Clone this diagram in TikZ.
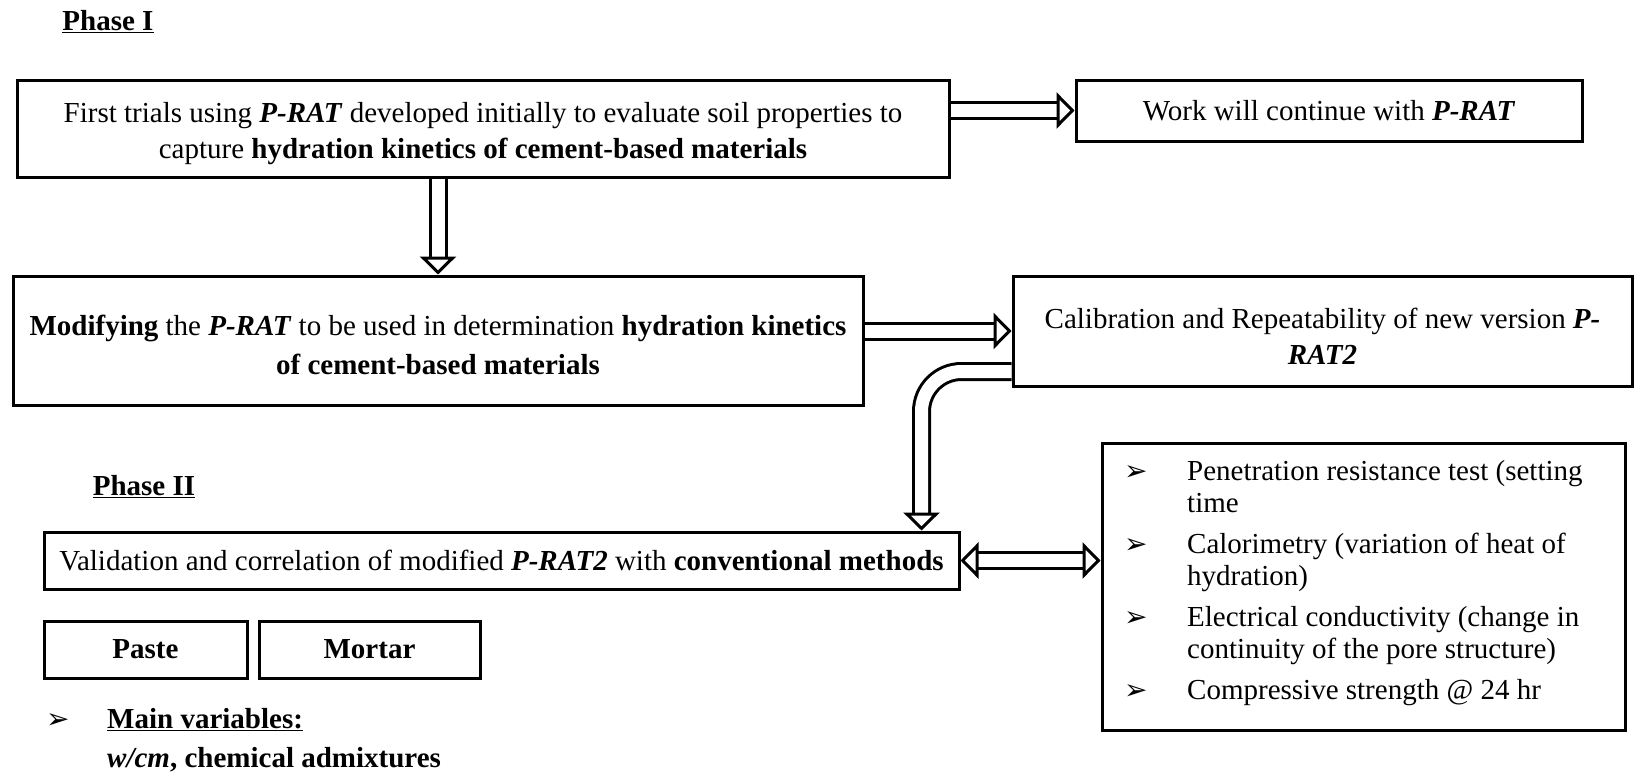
\documentclass[tikz,border=0pt]{standalone}
\usepackage{fontspec}
\setmainfont{Liberation Serif}
\newfontfamily\symfont{DejaVu Sans}
\usetikzlibrary{arrows.meta}
\newcommand{\prat}[1]{\textbf{\textit{#1}}}
\newcommand{\tick}{{\symfont\fontsize{28}{28}\selectfont ➢}}
\newcommand{\lift}{\rule{0pt}{30pt}}

\begin{document}
\begin{tikzpicture}[x=1pt, y=-1pt, font=\fontsize{29}{36}\selectfont,
	box/.style={draw, line width=3pt, inner sep=0pt, align=center},
	hollow/.style={double, double distance=13pt, line width=3pt, -{Triangle[open, length=18pt, width=36pt]}}]
	\useasboundingbox (0,0) rectangle (1635,776);

	% phase I
	\node (ph1) at (108,22) {\textbf{\underline{Phase I}}};
	\node[box, minimum width=932pt, minimum height=97pt] (trial) at (483,128.5) {\lift First trials using \prat{P-RAT} developed initially to evaluate soil properties to\\capture \textbf{hydration kinetics of cement-based materials}};
	\node[box, minimum width=506pt, minimum height=61pt] (cont) at (1329,110.5) {Work will continue with \prat{P-RAT}};
	\node[box, minimum width=850pt, minimum height=129pt, font=\fontsize{29}{39}\selectfont] (modif) at (438,340.5) {\lift\textbf{Modifying} the \prat{P-RAT} to be used in determination \textbf{hydration kinetics}\\\textbf{of cement-based materials}};
	\node[box, minimum width=619pt, minimum height=110pt] (calib) at (1322.5,331) {\lift Calibration and Repeatability of new version \prat{P-}\\\prat{RAT2}};

	% phase II
	\node (ph2) at (144,487) {\textbf{\underline{Phase II}}};
	\node[box, minimum width=915pt, minimum height=57pt] (valid) at (501.5,560.5) {Validation and correlation of modified \prat{P-RAT2} with \textbf{conventional methods}};
	\node[box, minimum width=203pt, minimum height=57pt] (paste) at (145.5,649.5) {\textbf{Paste}};
	\node[box, minimum width=221pt, minimum height=57pt] (mortar) at (369.5,649.5) {\textbf{Mortar}};
	\node[anchor=north west, inner sep=0pt, font=\fontsize{29}{39}\selectfont] (vars) at (46,701) {\begin{tabular}{@{}p{61pt}@{}l@{}}
		\tick & \textbf{\underline{Main variables:}}\\
		& \textbf{\textit{w/cm}, chemical admixtures}
	\end{tabular}};
	\node[box, minimum width=523pt, minimum height=287pt] (tests) at (1363.5,586.5) {};
	\node[anchor=north west, inner sep=0pt, font=\fontsize{29}{32}\selectfont] (lst) at (1124,458) {\begin{tabular}{@{}p{63pt}@{}l@{}}
		\tick & Penetration resistance test (setting\\
		& time\\[9pt]
		\tick & Calorimetry (variation of heat of\\
		& hydration)\\[9pt]
		\tick & Electrical conductivity (change in\\
		& continuity of the pore structure)\\[9pt]
		\tick & Compressive strength @ 24 hr
	\end{tabular}};

	% arrows
	\draw[hollow] (trial.east |- cont.west) -- (cont.west);
	\draw[hollow] (trial.south -| modif.north) -- (modif.north);
	\draw[hollow] (modif.east |- calib.west) -- (calib.west);
	\coordinate (out) at ([yshift=16pt]calib.south west);
	\coordinate (bend) at ([xshift=-90pt]out);
	\draw[hollow, rounded corners=40pt] (out) -- (bend) -- (bend |- valid.north);
	\draw[hollow, {Triangle[open, length=18pt, width=36pt]}-{Triangle[open, length=18pt, width=36pt]}] (valid.east) -- (valid.east -| tests.west);
\end{tikzpicture}
\end{document}
